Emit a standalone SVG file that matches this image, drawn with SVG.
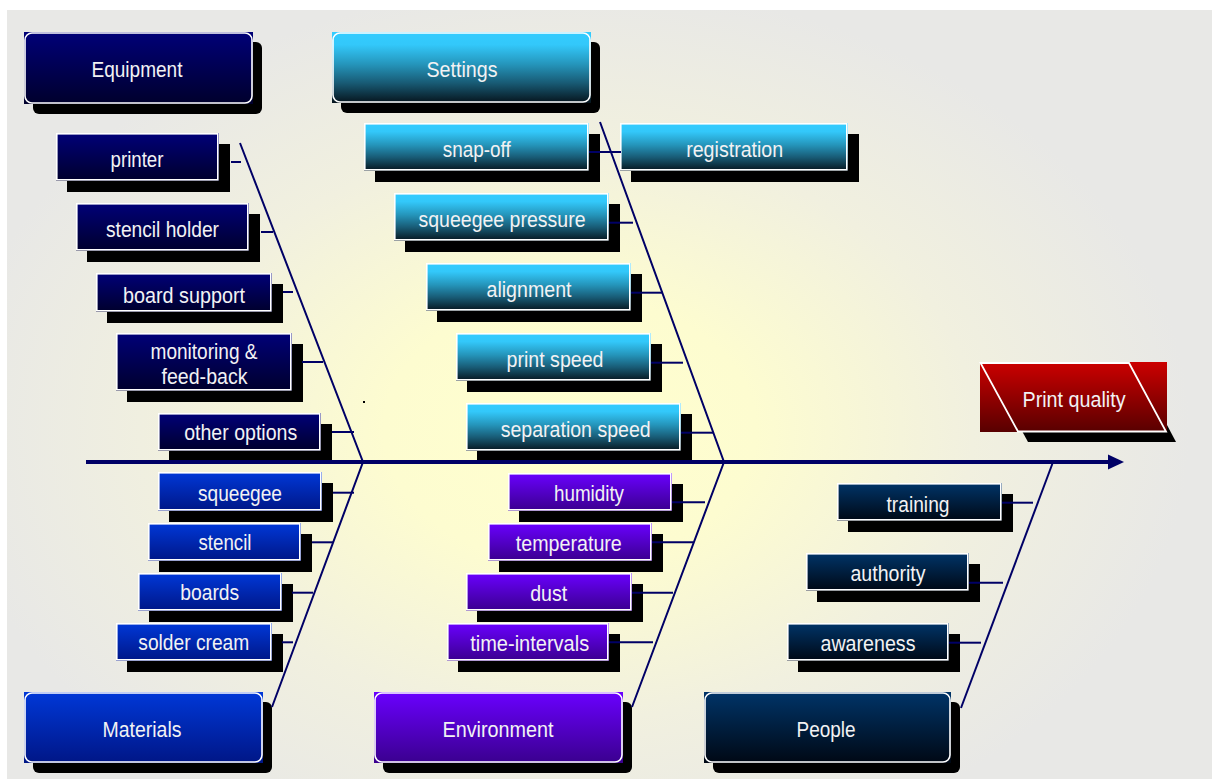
<svg xmlns="http://www.w3.org/2000/svg" width="1212" height="780" viewBox="0 0 1212 780">
<defs>
<radialGradient id="bg" gradientUnits="userSpaceOnUse" cx="570" cy="430" r="620" gradientTransform="translate(570 430) scale(1 0.72) translate(-570 -430)">
<stop offset="0" stop-color="#FFFFCE"/>
<stop offset="0.3" stop-color="#FDFCD0"/>
<stop offset="0.65" stop-color="#F1F0DF"/>
<stop offset="1" stop-color="#E8E8E6"/>
</radialGradient>
<linearGradient id="gEq" x1="0" y1="0" x2="0" y2="1"><stop offset="0" stop-color="#000078"/><stop offset="1" stop-color="#00002C"/></linearGradient>
<linearGradient id="gSe" x1="0" y1="0" x2="0" y2="1"><stop offset="0" stop-color="#33CCFF"/><stop offset="0.18" stop-color="#33C8FA"/><stop offset="0.45" stop-color="#2596BC"/><stop offset="0.72" stop-color="#185A74"/><stop offset="1" stop-color="#06141C"/></linearGradient>
<linearGradient id="gMa" x1="0" y1="0" x2="0" y2="1"><stop offset="0" stop-color="#0038D8"/><stop offset="1" stop-color="#001686"/></linearGradient>
<linearGradient id="gEn" x1="0" y1="0" x2="0" y2="1"><stop offset="0" stop-color="#6A00FF"/><stop offset="1" stop-color="#3A008E"/></linearGradient>
<linearGradient id="gPe" x1="0" y1="0" x2="0" y2="1"><stop offset="0" stop-color="#003468"/><stop offset="1" stop-color="#000814"/></linearGradient>
<linearGradient id="gPq" x1="0" y1="0" x2="0" y2="1"><stop offset="0" stop-color="#CC0000"/><stop offset="1" stop-color="#580000"/></linearGradient>
</defs>
<style>
.t{font-family:"Liberation Sans",Arial,"DejaVu Sans",sans-serif;font-size:22px;fill:#F2F2F4;text-anchor:middle}
.sh{fill:#000}
.bd{fill:none;stroke:#fff;stroke-width:1.6}
.ln{stroke:#000066;stroke-width:2;fill:none}
</style>
<rect x="0" y="0" width="1212" height="780" fill="#fff"/>
<rect x="7" y="10" width="1205" height="769" fill="url(#bg)"/>
<rect x="363" y="401" width="2" height="2" fill="#000"/>

<g id="equipment">
<rect class="sh" x="33" y="42" width="229" height="72" rx="6"/>
<rect x="24" y="32" width="229" height="72" fill="url(#gEq)"/>
<rect class="bd" x="25" y="33" width="227" height="70" rx="7"/>
<text class="t" x="137" y="77" textLength="91" lengthAdjust="spacingAndGlyphs">Equipment</text>
</g>
<g id="settings">
<rect class="sh" x="341" y="42" width="259" height="71" rx="6"/>
<rect x="332" y="32" width="259" height="71" fill="url(#gSe)"/>
<rect class="bd" x="333" y="33" width="257" height="69" rx="7"/>
<text class="t" x="462" y="77" textLength="71" lengthAdjust="spacingAndGlyphs">Settings</text>
</g>
<g id="materials">
<rect class="sh" x="33" y="702" width="239" height="71" rx="6"/>
<rect x="24" y="692" width="239" height="71" fill="url(#gMa)"/>
<rect class="bd" x="25" y="693" width="237" height="69" rx="7"/>
<text class="t" x="142" y="737" textLength="79" lengthAdjust="spacingAndGlyphs">Materials</text>
</g>
<g id="environment">
<rect class="sh" x="383" y="702" width="249" height="71" rx="6"/>
<rect x="374" y="692" width="249" height="71" fill="url(#gEn)"/>
<rect class="bd" x="375" y="693" width="247" height="69" rx="7"/>
<text class="t" x="498" y="737" textLength="111" lengthAdjust="spacingAndGlyphs">Environment</text>
</g>
<g id="people">
<rect class="sh" x="713" y="702" width="247" height="71" rx="6"/>
<rect x="704" y="692" width="247" height="71" fill="url(#gPe)"/>
<rect class="bd" x="705" y="693" width="245" height="69" rx="7"/>
<text class="t" x="826" y="737" textLength="59" lengthAdjust="spacingAndGlyphs">People</text>
</g>

<g id="printer">
<rect class="sh" x="67" y="144" width="163" height="48"/>
<rect x="56" y="133" width="163" height="48" fill="url(#gEq)"/>
<rect class="bd" x="56.8" y="133.8" width="161" height="46"/>
<text class="t" x="137" y="167" textLength="53" lengthAdjust="spacingAndGlyphs">printer</text>
</g>
<g id="stencil-holder">
<rect class="sh" x="87" y="214" width="173" height="48"/>
<rect x="76" y="203" width="173" height="48" fill="url(#gEq)"/>
<rect class="bd" x="76.8" y="203.8" width="171" height="46"/>
<text class="t" x="162.5" y="237" textLength="113" lengthAdjust="spacingAndGlyphs">stencil holder</text>
</g>
<g id="board-support">
<rect class="sh" x="107" y="284" width="176" height="39"/>
<rect x="96" y="273" width="176" height="39" fill="url(#gEq)"/>
<rect class="bd" x="96.8" y="273.8" width="174" height="37"/>
<text class="t" x="184" y="302.5" textLength="122" lengthAdjust="spacingAndGlyphs">board support</text>
</g>
<g id="monitoring">
<rect class="sh" x="127" y="344" width="176" height="58"/>
<rect x="116" y="333" width="176" height="58" fill="url(#gEq)"/>
<rect class="bd" x="116.8" y="333.8" width="174" height="56"/>
<text class="t" x="204" y="359" textLength="107" lengthAdjust="spacingAndGlyphs">monitoring &amp;</text>
<text class="t" x="204.5" y="384" textLength="86" lengthAdjust="spacingAndGlyphs">feed-back</text>
</g>
<g id="other-options">
<rect class="sh" x="169" y="424" width="163" height="38"/>
<rect x="158" y="413" width="163" height="38" fill="url(#gEq)"/>
<rect class="bd" x="158.8" y="413.8" width="161" height="36"/>
<text class="t" x="240.7" y="440" textLength="113" lengthAdjust="spacingAndGlyphs">other options</text>
</g>

<g id="snap-off">
<rect class="sh" x="375" y="134" width="225" height="48"/>
<rect x="364" y="123" width="225" height="48" fill="url(#gSe)"/>
<rect class="bd" x="364.8" y="123.8" width="223" height="46"/>
<text class="t" x="476.7" y="157" textLength="68" lengthAdjust="spacingAndGlyphs">snap-off</text>
</g>
<g id="registration">
<rect class="sh" x="631" y="134" width="228" height="48"/>
<rect x="620" y="123" width="228" height="48" fill="url(#gSe)"/>
<rect class="bd" x="620.8" y="123.8" width="226" height="46"/>
<text class="t" x="734.7" y="157.3" textLength="97" lengthAdjust="spacingAndGlyphs">registration</text>
</g>
<g id="squeegee-pressure">
<rect class="sh" x="405" y="204" width="215" height="48"/>
<rect x="394" y="193" width="215" height="48" fill="url(#gSe)"/>
<rect class="bd" x="394.8" y="193.8" width="213" height="46"/>
<text class="t" x="502" y="226.7" textLength="167" lengthAdjust="spacingAndGlyphs">squeegee pressure</text>
</g>
<g id="alignment">
<rect class="sh" x="437" y="274" width="205" height="48"/>
<rect x="426" y="263" width="205" height="48" fill="url(#gSe)"/>
<rect class="bd" x="426.8" y="263.8" width="203" height="46"/>
<text class="t" x="529" y="296.7" textLength="85" lengthAdjust="spacingAndGlyphs">alignment</text>
</g>
<g id="print-speed">
<rect class="sh" x="467" y="344" width="195" height="48"/>
<rect x="456" y="333" width="195" height="48" fill="url(#gSe)"/>
<rect class="bd" x="456.8" y="333.8" width="193" height="46"/>
<text class="t" x="555" y="366.7" textLength="97" lengthAdjust="spacingAndGlyphs">print speed</text>
</g>
<g id="separation-speed">
<rect class="sh" x="477" y="414" width="215" height="47"/>
<rect x="466" y="403" width="215" height="48" fill="url(#gSe)"/>
<rect class="bd" x="466.8" y="403.8" width="213" height="46"/>
<text class="t" x="575.7" y="436.7" textLength="150" lengthAdjust="spacingAndGlyphs">separation speed</text>
</g>

<g id="squeegee">
<rect class="sh" x="169" y="483" width="164" height="39"/>
<rect x="158" y="472" width="164" height="39" fill="url(#gMa)"/>
<rect class="bd" x="158.8" y="472.8" width="162" height="37"/>
<text class="t" x="240" y="500.7" textLength="84" lengthAdjust="spacingAndGlyphs">squeegee</text>
</g>
<g id="stencil">
<rect class="sh" x="159" y="534" width="153" height="38"/>
<rect x="148" y="523" width="153" height="38" fill="url(#gMa)"/>
<rect class="bd" x="148.8" y="523.8" width="151" height="36"/>
<text class="t" x="225" y="550" textLength="53" lengthAdjust="spacingAndGlyphs">stencil</text>
</g>
<g id="boards">
<rect class="sh" x="149" y="584" width="144" height="38"/>
<rect x="138" y="573" width="144" height="38" fill="url(#gMa)"/>
<rect class="bd" x="138.8" y="573.8" width="142" height="36"/>
<text class="t" x="209.7" y="600" textLength="59" lengthAdjust="spacingAndGlyphs">boards</text>
</g>
<g id="solder-cream">
<rect class="sh" x="127" y="634" width="156" height="38"/>
<rect x="116" y="623" width="156" height="38" fill="url(#gMa)"/>
<rect class="bd" x="116.8" y="623.8" width="154" height="36"/>
<text class="t" x="193.8" y="650" textLength="111" lengthAdjust="spacingAndGlyphs">solder cream</text>
</g>

<g id="humidity">
<rect class="sh" x="519" y="484" width="164" height="38"/>
<rect x="508" y="473" width="164" height="38" fill="url(#gEn)"/>
<rect class="bd" x="508.8" y="473.8" width="162" height="36"/>
<text class="t" x="589" y="501" textLength="70" lengthAdjust="spacingAndGlyphs">humidity</text>
</g>
<g id="temperature">
<rect class="sh" x="499" y="534" width="164" height="38"/>
<rect x="488" y="523" width="164" height="38" fill="url(#gEn)"/>
<rect class="bd" x="488.8" y="523.8" width="162" height="36"/>
<text class="t" x="568.8" y="550.7" textLength="106" lengthAdjust="spacingAndGlyphs">temperature</text>
</g>
<g id="dust">
<rect class="sh" x="477" y="584" width="166" height="38"/>
<rect x="466" y="573" width="166" height="38" fill="url(#gEn)"/>
<rect class="bd" x="466.8" y="573.8" width="164" height="36"/>
<text class="t" x="548.7" y="600.7" textLength="37" lengthAdjust="spacingAndGlyphs">dust</text>
</g>
<g id="time-intervals">
<rect class="sh" x="458" y="634" width="162" height="38"/>
<rect x="447" y="623" width="162" height="38" fill="url(#gEn)"/>
<rect class="bd" x="447.8" y="623.8" width="160" height="36"/>
<text class="t" x="529.7" y="650.7" textLength="119" lengthAdjust="spacingAndGlyphs">time-intervals</text>
</g>

<g id="training">
<rect class="sh" x="848" y="494" width="165" height="38"/>
<rect x="837" y="483" width="165" height="38" fill="url(#gPe)"/>
<rect class="bd" x="837.8" y="483.8" width="163" height="36"/>
<text class="t" x="918" y="511.7" textLength="63" lengthAdjust="spacingAndGlyphs">training</text>
</g>
<g id="authority">
<rect class="sh" x="817" y="564" width="163" height="38"/>
<rect x="806" y="553" width="163" height="38" fill="url(#gPe)"/>
<rect class="bd" x="806.8" y="553.8" width="161" height="36"/>
<text class="t" x="888" y="580.7" textLength="75" lengthAdjust="spacingAndGlyphs">authority</text>
</g>
<g id="awareness">
<rect class="sh" x="798" y="634" width="162" height="38"/>
<rect x="787" y="623" width="162" height="38" fill="url(#gPe)"/>
<rect class="bd" x="787.8" y="623.8" width="160" height="36"/>
<text class="t" x="868" y="650.7" textLength="95" lengthAdjust="spacingAndGlyphs">awareness</text>
</g>

<g id="print-quality">
<polygon class="sh" points="990,372 1139,372 1176,442 1028,442"/>
<rect x="980" y="362" width="187" height="70" fill="url(#gPq)"/>
<polygon points="980.5,363 1129,363 1166,431.5 1018,431.5" fill="none" stroke="#fff" stroke-width="1.8"/>
<text class="t" x="1074" y="406.7" textLength="103" lengthAdjust="spacingAndGlyphs">Print quality</text>
</g>

<g id="connectors">
<line x1="86" y1="462" x2="1110" y2="462" stroke="#000066" stroke-width="4"/>
<polygon points="1108,454.5 1124,462 1108,469.5" fill="#000066"/>
<polyline class="ln" points="240,143 363,462 272,707"/>
<polyline class="ln" points="600,122 724,462 632,707"/>
<line class="ln" x1="1053" y1="462" x2="961" y2="708"/>
<line class="ln" x1="231" y1="162" x2="241" y2="162"/>
<line class="ln" x1="261" y1="232" x2="273" y2="232"/>
<line class="ln" x1="283" y1="292" x2="293" y2="292"/>
<line class="ln" x1="302" y1="362" x2="323" y2="362"/>
<line class="ln" x1="332" y1="432" x2="354" y2="432"/>
<line class="ln" x1="589" y1="152" x2="621" y2="152"/>
<line class="ln" x1="609" y1="222.7" x2="633" y2="222.7"/>
<line class="ln" x1="631" y1="292.7" x2="663" y2="292.7"/>
<line class="ln" x1="651" y1="362.7" x2="683" y2="362.7"/>
<line class="ln" x1="681" y1="432.7" x2="713" y2="432.7"/>
<line class="ln" x1="333" y1="492.7" x2="354" y2="492.7"/>
<line class="ln" x1="312" y1="542.3" x2="333" y2="542.3"/>
<line class="ln" x1="292" y1="592.7" x2="313" y2="592.7"/>
<line class="ln" x1="282" y1="642.3" x2="293" y2="642.3"/>
<line class="ln" x1="672" y1="502.3" x2="705" y2="502.3"/>
<line class="ln" x1="652" y1="542.3" x2="693" y2="542.3"/>
<line class="ln" x1="632" y1="592.7" x2="673" y2="592.7"/>
<line class="ln" x1="609" y1="642.3" x2="653" y2="642.3"/>
<line class="ln" x1="1002" y1="502.7" x2="1033" y2="502.7"/>
<line class="ln" x1="969" y1="582.7" x2="1003" y2="582.7"/>
<line class="ln" x1="949" y1="642.7" x2="981" y2="642.7"/>
</g>
</svg>
